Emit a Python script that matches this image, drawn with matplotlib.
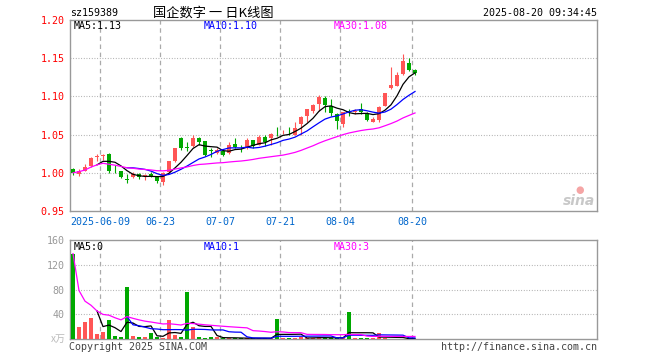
import matplotlib
matplotlib.use("Agg")
import matplotlib.pyplot as plt
import numpy as np
import pandas as pd

# ---------------- data ----------------
trade_days = [d for d in pd.bdate_range("2025-05-30", "2025-08-20") if d.strftime("%m-%d") != "06-02"]
dates = [d.strftime("%Y-%m-%d") for d in trade_days]

opens = [1.005, 0.998, 1.003, 1.009, 1.021, 1.022, 1.025, 1.003, 1.002, 0.992,
         0.994, 0.999, 0.996, 0.999, 0.995, 0.988, 1.001, 1.015, 1.045, 1.034,
         1.035, 1.046, 1.041, 1.030, 1.026, 1.029, 1.026, 1.038, 1.033, 1.032,
         1.0425, 1.037, 1.047, 1.045, 1.054, 1.053, 1.054, 1.050, 1.064, 1.075,
         1.081, 1.090, 1.098, 1.088, 1.077, 1.064, 1.081, 1.080, 1.084, 1.077,
         1.067, 1.069, 1.088, 1.111, 1.114, 1.129, 1.144, 1.135]
highs = [1.006, 1.005, 1.012, 1.021, 1.025, 1.025, 1.026, 1.010, 1.002, 0.998,
         1.001, 1.000, 0.999, 1.001, 0.996, 1.001, 1.016, 1.033, 1.047, 1.040,
         1.050, 1.047, 1.042, 1.032, 1.032, 1.031, 1.040, 1.045, 1.036, 1.046,
         1.043, 1.049, 1.050, 1.052, 1.060, 1.056, 1.060, 1.066, 1.074, 1.084,
         1.090, 1.102, 1.101, 1.097, 1.078, 1.080, 1.084, 1.083, 1.091, 1.079,
         1.073, 1.088, 1.105, 1.139, 1.132, 1.155, 1.150, 1.136]
lows = [0.997, 0.996, 1.002, 1.007, 1.015, 1.017, 1.000, 1.000, 0.993, 0.987,
        0.993, 0.992, 0.990, 0.995, 0.987, 0.984, 1.000, 1.014, 1.030, 1.029,
        1.034, 1.036, 1.022, 1.021, 1.025, 1.022, 1.025, 1.032, 1.027, 1.031,
        1.032, 1.036, 1.035, 1.037, 1.048, 1.051, 1.050, 1.049, 1.050, 1.066,
        1.078, 1.081, 1.079, 1.075, 1.057, 1.060, 1.075, 1.077, 1.077, 1.068,
        1.066, 1.066, 1.087, 1.110, 1.113, 1.128, 1.133, 1.128]
closes = [1.000, 1.003, 1.008, 1.019, 1.022, 1.023, 1.003, 1.002, 0.995, 0.991,
          0.999, 0.994, 0.997, 0.996, 0.989, 1.000, 1.015, 1.032, 1.033, 1.033,
          1.046, 1.040, 1.023, 1.029, 1.030, 1.023, 1.036, 1.034, 1.032, 1.0425,
          1.035, 1.047, 1.040, 1.051, 1.053, 1.054, 1.053, 1.059, 1.073, 1.083,
          1.089, 1.099, 1.089, 1.078, 1.068, 1.079, 1.080, 1.081, 1.080, 1.069,
          1.071, 1.086, 1.104, 1.115, 1.128, 1.146, 1.135, 1.130]
volumes = [138, 18.7, 26.7, 34.7, 8.5, 11.7, 31, 5.3, 3.7, 83.7,
           5.3, 3.7, 3.7, 9.6, 3.7, 1.0, 31, 7, 2.7, 76,
           18.7, 2.7, 1.6, 2.7, 2.7, 1.5, 1.5, 1.2, 1.2, 1.5,
           1.0, 1.2, 1.0, 1.2, 33, 1.0, 1.2, 1.5, 2.5, 2.0,
           2.0, 2.5, 2.0, 1.5, 1.5, 2.0, 44, 1.5, 1.5, 1.5,
           1.2, 10, 1.0, 0.5, 0.4, 0.5, 0.4, 0.4]

tick_dates = ["2025-06-09", "2025-06-23", "2025-07-07", "2025-07-21", "2025-08-04", "2025-08-20"]
tick_labels = ["2025-06-09", "06-23", "07-07", "07-21", "08-04", "08-20"]
price_ticks = [0.95, 1.00, 1.05, 1.10, 1.15, 1.20]
price_tick_labels = ["0.95", "1.00", "1.05", "1.10", "1.15", "1.20"]
vol_ticks = [40, 80, 120, 160]
vol_tick_labels = ["40", "80", "120", "160"]

code = "sz159389"
title = "国企数字 一 日K线图"
stamp = "2025-08-20 09:34:45"
price_ma_labels = ["MA5:1.13", "MA10:1.10", "MA30:1.08"]
vol_ma_labels = ["MA5:0", "MA10:1", "MA30:3"]

# ---------------- styling ----------------
RED = "#FF5555"
GREEN = "#00A800"
MA_COLORS = ["#000000", "#0000FF", "#FF00FF"]
GRID = "#aaaaaa"
FRAME = "#999999"
MONO = "DejaVu Sans Mono"
FS = 7.2

W, H = 660, 360
fig = plt.figure(figsize=(W / 100, H / 100), dpi=100)


def fx(x):
    return x / W


def fy(y):
    return 1 - y / H


ax1 = fig.add_axes([fx(70), fy(211), 527 / W, 191 / H])
ax2 = fig.add_axes([fx(70), fy(339), 527 / W, 99 / H])

n = len(closes)
idx = np.arange(n)
o = np.array(opens)
c = np.array(closes)
hi = np.array(highs)
lo = np.array(lows)
v = np.array(volumes)
up = c >= o
colors = np.where(up, RED, GREEN)

xmax = 87.33

# price candles
ax1.vlines(idx, lo, hi, colors=colors, linewidth=0.8, zorder=3)
body_bottom = np.minimum(o, c)
body_h = np.maximum(np.abs(c - o), 0.0009)
ax1.bar(idx, body_h, bottom=body_bottom, width=0.8, color=colors, linewidth=0, zorder=4)

cs = pd.Series(c)
ma5 = cs.rolling(5).mean()
ma10 = cs.rolling(10).mean()
ma30 = cs.rolling(30, min_periods=1).mean()
for ma, col in zip([ma5, ma10, ma30], MA_COLORS):
    ax1.plot(idx, ma, color=col, linewidth=0.9, zorder=5)

ax1.set_xlim(-0.5, xmax)
ax1.set_ylim(price_ticks[0], price_ticks[-1])
for yv in price_ticks[1:-1]:
    ax1.axhline(yv, color=GRID, linewidth=0.8, linestyle=(0, (0.8, 1.6)), zorder=1)

tick_pos = [dates.index(d) - 0.5 for d in tick_dates]
for xp in tick_pos:
    ax1.axvline(xp, color=GRID, linewidth=0.9, linestyle=(0, (3.6, 2.9)), zorder=1)
    ax2.axvline(xp, color=GRID, linewidth=0.9, linestyle=(0, (3.6, 2.9)), zorder=1)

ax1.set_yticks(price_ticks)
ax1.set_yticklabels(price_tick_labels, color="red", fontsize=FS, family=MONO)
ax1.set_xticks(tick_pos)
ax1.set_xticklabels(tick_labels, color="#0066CC", fontsize=FS, family=MONO)
ax1.tick_params(length=0, pad=4)

# volume
ax2.bar(idx, v, width=0.8, color=colors, linewidth=0, zorder=3)
vs = pd.Series(v)
vma5 = vs.rolling(5).mean()
vma10 = vs.rolling(10).mean()
vma30 = vs.rolling(30, min_periods=1).mean()
for ma, col in zip([vma5, vma10, vma30], MA_COLORS):
    ax2.plot(idx, ma, color=col, linewidth=0.9, zorder=5)
ax2.set_xlim(-0.5, xmax)
ax2.set_ylim(0, vol_ticks[-1])
for yv in vol_ticks[:-1]:
    ax2.axhline(yv, color=GRID, linewidth=0.8, linestyle=(0, (0.8, 1.6)), zorder=1)
ax2.set_yticks(vol_ticks)
ax2.set_yticklabels(vol_tick_labels, color="#999999", fontsize=FS, family=MONO)
ax2.set_xticks([])
ax2.tick_params(length=0, pad=4)

for ax in (ax1, ax2):
    for s in ax.spines.values():
        s.set_color(FRAME)
        s.set_linewidth(1.0)

# texts
fig.text(fx(70), fy(13), code, fontsize=FS, family=MONO, ha="left", va="center")
fig.text(fx(213), fy(13), title, fontsize=9.5, family=["Noto Sans CJK SC", "DejaVu Sans"],
         ha="center", va="center")
fig.text(fx(597), fy(13), stamp, fontsize=FS, family=MONO, ha="right", va="center")

for lab, col, xp in zip(price_ma_labels, MA_COLORS, [74, 204, 334]):
    fig.text(fx(xp), fy(26), lab, fontsize=FS, family=MONO, color=col, ha="left", va="center")
for lab, col, xp in zip(vol_ma_labels, MA_COLORS, [74, 204, 334]):
    fig.text(fx(xp), fy(247), lab, fontsize=FS, family=MONO, color=col, ha="left", va="center")

fig.text(fx(66), fy(339), "x万", fontsize=FS, family=["Noto Sans CJK SC", "DejaVu Sans"],
         color="#bbbbbb", ha="right", va="center")
fig.text(fx(69), fy(347), "Copyright 2025 SINA.COM", fontsize=FS, family=MONO,
         color="#444444", ha="left", va="center")
fig.text(fx(597), fy(347), "http://finance.sina.com.cn", fontsize=FS, family=MONO,
         color="#444444", ha="right", va="center")

# sina watermark
fig.text(fx(595), fy(201), "sina", fontsize=10, style="italic", weight="bold",
         color="#c8c8c8", ha="right", va="center")
fig.text(fx(580), fy(190), "●", fontsize=7, color="#f5a5a5", ha="center", va="center")

fig.savefig("out.png", dpi=100)
